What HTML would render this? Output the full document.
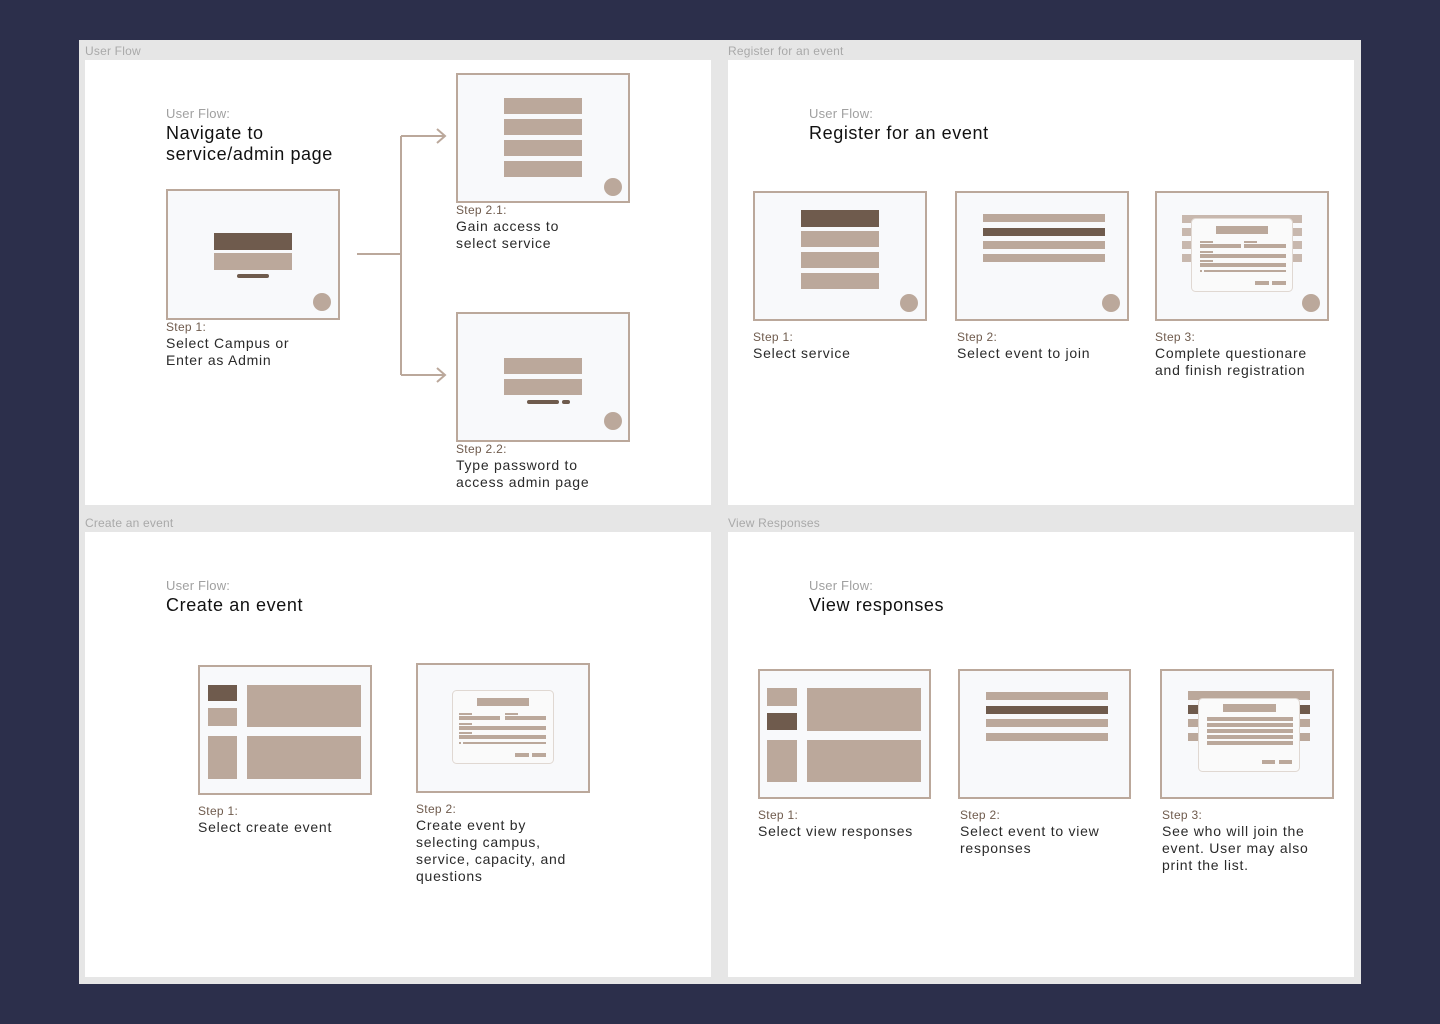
<!DOCTYPE html>
<html><head><meta charset="utf-8">
<style>
html,body{margin:0;padding:0;width:1440px;height:1024px;overflow:hidden;background:#2c2f4b;font-family:"Liberation Sans",sans-serif}
svg{position:absolute;left:0;top:0}
.t{position:absolute;white-space:nowrap}
.fl{font-size:12px;color:#a9a9a9;letter-spacing:0.2px}
.uf{font-size:13px;color:#a0a0a0;font-weight:300;letter-spacing:0.2px}
.h{font-size:18px;color:#111;line-height:21px;letter-spacing:0.6px}
.s{font-size:12px;color:#6f5b4d;letter-spacing:0.3px}
.d{font-size:14px;color:#2a2a2a;line-height:17px;letter-spacing:0.75px}
</style></head><body>
<svg width="1440" height="1024" viewBox="0 0 1440 1024">
<rect x="79" y="40" width="1282" height="944" fill="#e6e6e6"/>
<rect x="85" y="60" width="626" height="445" fill="#fff"/>
<rect x="728" y="60" width="626" height="445" fill="#fff"/>
<rect x="85" y="532" width="626" height="445" fill="#fff"/>
<rect x="728" y="532" width="626" height="445" fill="#fff"/>
<g fill="#f8f9fb" stroke="#bba89b" stroke-width="2">
<rect x="167" y="190" width="172" height="129"/>
<rect x="457" y="74" width="172" height="128"/>
<rect x="457" y="313" width="172" height="128"/>
<rect x="754" y="192" width="172" height="128"/>
<rect x="956" y="192" width="172" height="128"/>
<rect x="1156" y="192" width="172" height="128"/>
<rect x="199" y="666" width="172" height="128"/>
<rect x="417" y="664" width="172" height="128"/>
<rect x="759" y="670" width="171" height="128"/>
<rect x="959" y="670" width="171" height="128"/>
<rect x="1161" y="670" width="172" height="128"/>
</g>
<g fill="#bba89b">
<rect x="214" y="253" width="78" height="17"/>
<rect x="504" y="98" width="78" height="16"/><rect x="504" y="119" width="78" height="16"/><rect x="504" y="140" width="78" height="16"/><rect x="504" y="161" width="78" height="16"/>
<rect x="504" y="358" width="78" height="16"/><rect x="504" y="379" width="78" height="16"/>
<circle cx="322" cy="302" r="9"/><circle cx="613" cy="187" r="9"/><circle cx="613" cy="421" r="9"/>
<circle cx="909" cy="303" r="9"/><circle cx="1111" cy="303" r="9"/><circle cx="1311" cy="303" r="9"/>
<rect x="801" y="231" width="78" height="16"/><rect x="801" y="252" width="78" height="16"/><rect x="801" y="273" width="78" height="16"/>
<rect x="983" y="214" width="122" height="8"/><rect x="983" y="241" width="122" height="8"/><rect x="983" y="254" width="122" height="8"/>
<rect x="1182" y="215" width="120" height="8" opacity=".8"/><rect x="1182" y="228" width="120" height="8" opacity=".8"/><rect x="1182" y="241" width="120" height="8" opacity=".8"/><rect x="1182" y="254" width="120" height="8" opacity=".8"/>
<rect x="208" y="708" width="29" height="18"/><rect x="208" y="736" width="29" height="43"/>
<rect x="247" y="685" width="114" height="42"/><rect x="247" y="736" width="114" height="43"/>
<rect x="767" y="688" width="30" height="18"/><rect x="767" y="740" width="30" height="42"/>
<rect x="807" y="688" width="114" height="43"/><rect x="807" y="740" width="114" height="42"/>
<rect x="986" y="692" width="122" height="8"/><rect x="986" y="719" width="122" height="8"/><rect x="986" y="733" width="122" height="8"/>
<rect x="1188" y="691" width="122" height="9"/><rect x="1188" y="719" width="122" height="8"/><rect x="1188" y="733" width="122" height="8"/>
</g>
<g fill="#6f5b4d">
<rect x="214" y="233" width="78" height="17"/>
<rect x="237" y="274" width="32" height="4" rx="2"/>
<rect x="527" y="400" width="32" height="4" rx="2"/><rect x="562" y="400" width="8" height="4" rx="2"/>
<rect x="801" y="210" width="78" height="17"/>
<rect x="983" y="228" width="122" height="8"/>
<rect x="208" y="685" width="29" height="16"/>
<rect x="767" y="713" width="30" height="17"/>
<rect x="986" y="706" width="122" height="8"/>
<rect x="1188" y="705" width="122" height="9"/>
</g>
<g fill="#fafafa" stroke="#e0d8d2" stroke-width="1">
<rect x="1191.5" y="218.5" width="101" height="73" rx="4"/>
<rect x="452.5" y="690.5" width="101" height="73" rx="4"/>
<rect x="1198.5" y="698.5" width="101" height="73" rx="4"/>
</g>
<g fill="#bba89b">
<rect x="1216" y="226" width="52" height="8"/>
<rect x="1200" y="241" width="13" height="2"/><rect x="1244" y="241" width="13" height="2"/>
<rect x="1200" y="244" width="41" height="4"/><rect x="1244" y="244" width="42" height="4"/>
<rect x="1200" y="251" width="13" height="2"/><rect x="1200" y="254" width="86" height="4"/>
<rect x="1200" y="260" width="13" height="2"/><rect x="1200" y="263" width="86" height="4"/>
<rect x="1200" y="270" width="2" height="2"/><rect x="1204" y="270" width="82" height="2"/>
<rect x="1255" y="281" width="14" height="4"/><rect x="1272" y="281" width="14" height="4"/>
<rect x="477" y="698" width="52" height="8"/>
<rect x="459" y="713" width="13" height="2"/><rect x="505" y="713" width="13" height="2"/>
<rect x="459" y="716" width="41" height="4"/><rect x="505" y="716" width="41" height="4"/>
<rect x="459" y="723" width="13" height="2"/><rect x="459" y="726" width="87" height="4"/>
<rect x="459" y="732" width="13" height="2"/><rect x="459" y="735" width="87" height="4"/>
<rect x="459" y="742" width="2" height="2"/><rect x="463" y="742" width="83" height="2"/>
<rect x="515" y="753" width="14" height="4"/><rect x="532" y="753" width="14" height="4"/>
<rect x="1223" y="704" width="53" height="8"/>
<rect x="1207" y="717" width="86" height="4"/><rect x="1207" y="723" width="86" height="4"/><rect x="1207" y="729" width="86" height="4"/><rect x="1207" y="735" width="86" height="4"/><rect x="1207" y="741" width="86" height="4"/>
<rect x="1262" y="760" width="13" height="4"/><rect x="1279" y="760" width="13" height="4"/>
</g>
<g fill="none" stroke="#bba89b" stroke-width="2">
<path d="M357 254H401M401 136V375M401 136H444M401 375H444"/>
<path d="M437 129L445 136L437 143M437 368L445 375L437 382"/>
</g>
</svg>
<div class="t fl" style="left:85px;top:44px">User Flow</div>
<div class="t fl" style="left:728px;top:44px">Register for an event</div>
<div class="t fl" style="left:85px;top:516px">Create an event</div>
<div class="t fl" style="left:728px;top:516px">View Responses</div>

<div class="t uf" style="left:166px;top:106px">User Flow:</div>
<div class="t h" style="left:166px;top:123px">Navigate to<br>service/admin page</div>
<div class="t uf" style="left:809px;top:106px">User Flow:</div>
<div class="t h" style="left:809px;top:123px">Register for an event</div>
<div class="t uf" style="left:166px;top:578px">User Flow:</div>
<div class="t h" style="left:166px;top:595px">Create an event</div>
<div class="t uf" style="left:809px;top:578px">User Flow:</div>
<div class="t h" style="left:809px;top:595px">View responses</div>

<div class="t s" style="left:166px;top:320px">Step 1:</div>
<div class="t d" style="left:166px;top:335px">Select Campus or<br>Enter as Admin</div>
<div class="t s" style="left:456px;top:203px">Step 2.1:</div>
<div class="t d" style="left:456px;top:218px">Gain access to<br>select service</div>
<div class="t s" style="left:456px;top:442px">Step 2.2:</div>
<div class="t d" style="left:456px;top:457px">Type password to<br>access admin page</div>

<div class="t s" style="left:753px;top:330px">Step 1:</div>
<div class="t d" style="left:753px;top:345px">Select service</div>
<div class="t s" style="left:957px;top:330px">Step 2:</div>
<div class="t d" style="left:957px;top:345px">Select event to join</div>
<div class="t s" style="left:1155px;top:330px">Step 3:</div>
<div class="t d" style="left:1155px;top:345px">Complete questionare<br>and finish registration</div>

<div class="t s" style="left:198px;top:804px">Step 1:</div>
<div class="t d" style="left:198px;top:819px">Select create event</div>
<div class="t s" style="left:416px;top:802px">Step 2:</div>
<div class="t d" style="left:416px;top:817px">Create event by<br>selecting campus,<br>service, capacity, and<br>questions</div>

<div class="t s" style="left:758px;top:808px">Step 1:</div>
<div class="t d" style="left:758px;top:823px">Select view responses</div>
<div class="t s" style="left:960px;top:808px">Step 2:</div>
<div class="t d" style="left:960px;top:823px">Select event to view<br>responses</div>
<div class="t s" style="left:1162px;top:808px">Step 3:</div>
<div class="t d" style="left:1162px;top:823px">See who will join the<br>event. User may also<br>print the list.</div>
</body></html>
